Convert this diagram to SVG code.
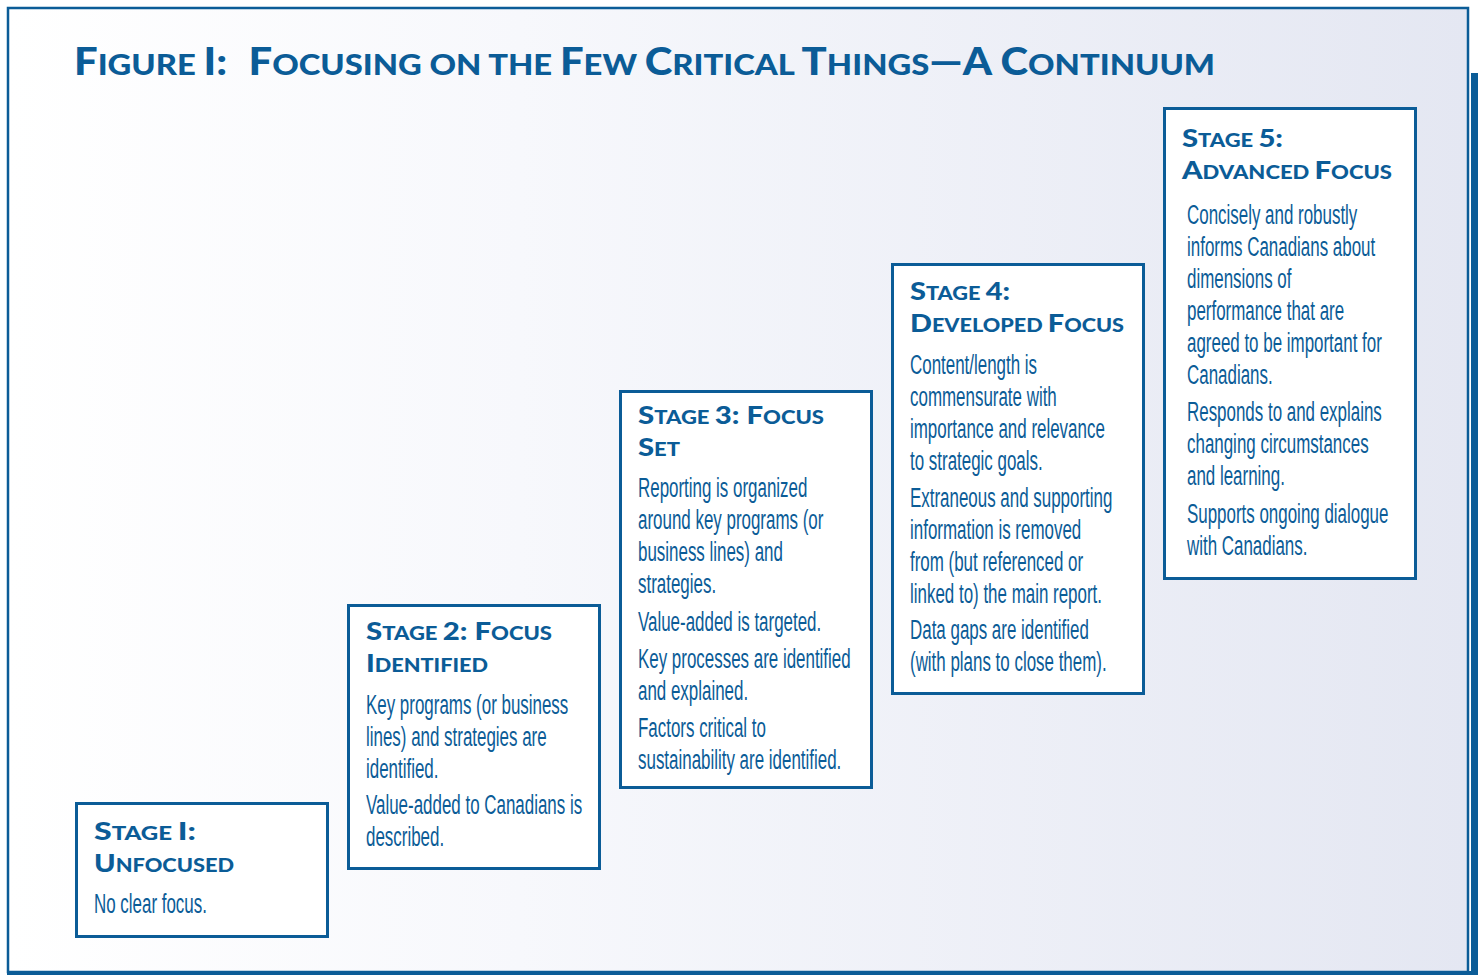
<svg xmlns="http://www.w3.org/2000/svg" width="1478" height="975" viewBox="0 0 1478 975">
  <defs>
    <linearGradient id="bg" x1="0" y1="0" x2="1" y2="0">
      <stop offset="0" stop-color="#ffffff"/>
      <stop offset="0.35" stop-color="#f7f8fc"/>
      <stop offset="1" stop-color="#e4e7f2"/>
    </linearGradient>
    <style>
      .frame { fill: url(#bg); stroke: #0b5c97; stroke-width: 2.5; }
      .box { fill: #ffffff; stroke: #0b5c97; stroke-width: 3; }
      .title { font-family: Lato, "Liberation Sans", sans-serif; font-weight: 900; fill: #0b5c97; font-size: 29px; }
      .title .big { font-size: 37px; }
      .hd { font-family: Lato, "Liberation Sans", sans-serif; font-weight: 900; fill: #0b5c97; font-size: 18px; }
      .hd .big { font-size: 24px; }
      .bd { font-family: "Liberation Sans", Arial, sans-serif; font-size: 28px; fill: #0b5c97; }
    </style>
  </defs>

  <!-- page frame -->
  <rect x="0" y="0" width="1478" height="975" fill="#ffffff"/>
  <rect class="frame" x="8" y="8" width="1460" height="964"/>
  <rect x="1471" y="73" width="7" height="902" fill="#0b5c97"/>
  <rect x="7" y="971" width="1471" height="4" fill="#0b5c97"/>

  <!-- title -->
  <text class="title" x="74" y="75" textLength="1141" lengthAdjust="spacingAndGlyphs"><tspan class="big">F</tspan>IGURE <tspan class="big">I:</tspan> <tspan class="big" dx="12">F</tspan>OCUSING ON THE <tspan class="big">F</tspan>EW <tspan class="big">C</tspan>RITICAL <tspan class="big">T</tspan>HINGS<tspan class="big">—A C</tspan>ONTINUUM</text>

  <!-- Stage 1 -->
  <g id="stage1">
    <rect class="box" x="76.5" y="803.5" width="251" height="133"/>
    <text class="hd" x="94" y="840" textLength="102" lengthAdjust="spacingAndGlyphs"><tspan class="big">S</tspan>TAGE <tspan class="big">I:</tspan></text>
    <text class="hd" x="94" y="872" textLength="140" lengthAdjust="spacingAndGlyphs"><tspan class="big">U</tspan>NFOCUSED</text>
    <g transform="translate(94,0) scale(0.605,1)">
      <text class="bd" x="0" y="913">No clear focus.</text>
    </g>
  </g>

  <!-- Stage 2 -->
  <g id="stage2">
    <rect class="box" x="348.5" y="605.5" width="251" height="263"/>
    <text class="hd" x="366" y="640" textLength="186" lengthAdjust="spacingAndGlyphs"><tspan class="big">S</tspan>TAGE <tspan class="big">2: F</tspan>OCUS</text>
    <text class="hd" x="366" y="672" textLength="122" lengthAdjust="spacingAndGlyphs"><tspan class="big">I</tspan>DENTIFIED</text>
    <g transform="translate(366,0) scale(0.605,1)">
      <text class="bd" x="0" y="714">Key programs (or business</text>
      <text class="bd" x="0" y="746">lines) and strategies are</text>
      <text class="bd" x="0" y="778">identified.</text>
      <text class="bd" x="0" y="814">Value-added to Canadians is</text>
      <text class="bd" x="0" y="846">described.</text>
    </g>
  </g>

  <!-- Stage 3 -->
  <g id="stage3">
    <rect class="box" x="620.5" y="391.5" width="251" height="396"/>
    <text class="hd" x="638" y="424" textLength="186" lengthAdjust="spacingAndGlyphs"><tspan class="big">S</tspan>TAGE <tspan class="big">3: F</tspan>OCUS</text>
    <text class="hd" x="638" y="456" textLength="42" lengthAdjust="spacingAndGlyphs"><tspan class="big">S</tspan>ET</text>
    <g transform="translate(638,0) scale(0.605,1)">
      <text class="bd" x="0" y="497">Reporting is organized</text>
      <text class="bd" x="0" y="529">around key programs (or</text>
      <text class="bd" x="0" y="561">business lines) and</text>
      <text class="bd" x="0" y="593">strategies.</text>
      <text class="bd" x="0" y="631">Value-added is targeted.</text>
      <text class="bd" x="0" y="668">Key processes are identified</text>
      <text class="bd" x="0" y="700">and explained.</text>
      <text class="bd" x="0" y="737">Factors critical to</text>
      <text class="bd" x="0" y="769">sustainability are identified.</text>
    </g>
  </g>

  <!-- Stage 4 -->
  <g id="stage4">
    <rect class="box" x="892.5" y="264.5" width="251" height="429"/>
    <text class="hd" x="910" y="300" textLength="100" lengthAdjust="spacingAndGlyphs"><tspan class="big">S</tspan>TAGE <tspan class="big">4:</tspan></text>
    <text class="hd" x="910" y="332" textLength="214" lengthAdjust="spacingAndGlyphs"><tspan class="big">D</tspan>EVELOPED <tspan class="big">F</tspan>OCUS</text>
    <g transform="translate(910,0) scale(0.605,1)">
      <text class="bd" x="0" y="374">Content/length is</text>
      <text class="bd" x="0" y="406">commensurate with</text>
      <text class="bd" x="0" y="438">importance and relevance</text>
      <text class="bd" x="0" y="470">to strategic goals.</text>
      <text class="bd" x="0" y="507">Extraneous and supporting</text>
      <text class="bd" x="0" y="539">information is removed</text>
      <text class="bd" x="0" y="571">from (but referenced or</text>
      <text class="bd" x="0" y="603">linked to) the main report.</text>
      <text class="bd" x="0" y="639">Data gaps are identified</text>
      <text class="bd" x="0" y="671">(with plans to close them).</text>
    </g>
  </g>

  <!-- Stage 5 -->
  <g id="stage5">
    <rect class="box" x="1164.5" y="108.5" width="251" height="470"/>
    <text class="hd" x="1182" y="147" textLength="101" lengthAdjust="spacingAndGlyphs"><tspan class="big">S</tspan>TAGE <tspan class="big">5:</tspan></text>
    <text class="hd" x="1182" y="179" textLength="210" lengthAdjust="spacingAndGlyphs"><tspan class="big">A</tspan>DVANCED <tspan class="big">F</tspan>OCUS</text>
    <g transform="translate(1187,0) scale(0.605,1)">
      <text class="bd" x="0" y="224">Concisely and robustly</text>
      <text class="bd" x="0" y="256">informs Canadians about</text>
      <text class="bd" x="0" y="288">dimensions of</text>
      <text class="bd" x="0" y="320">performance that are</text>
      <text class="bd" x="0" y="352">agreed to be important for</text>
      <text class="bd" x="0" y="384">Canadians.</text>
      <text class="bd" x="0" y="421">Responds to and explains</text>
      <text class="bd" x="0" y="453">changing circumstances</text>
      <text class="bd" x="0" y="485">and learning.</text>
      <text class="bd" x="0" y="523">Supports ongoing dialogue</text>
      <text class="bd" x="0" y="555">with Canadians.</text>
    </g>
  </g>
</svg>
